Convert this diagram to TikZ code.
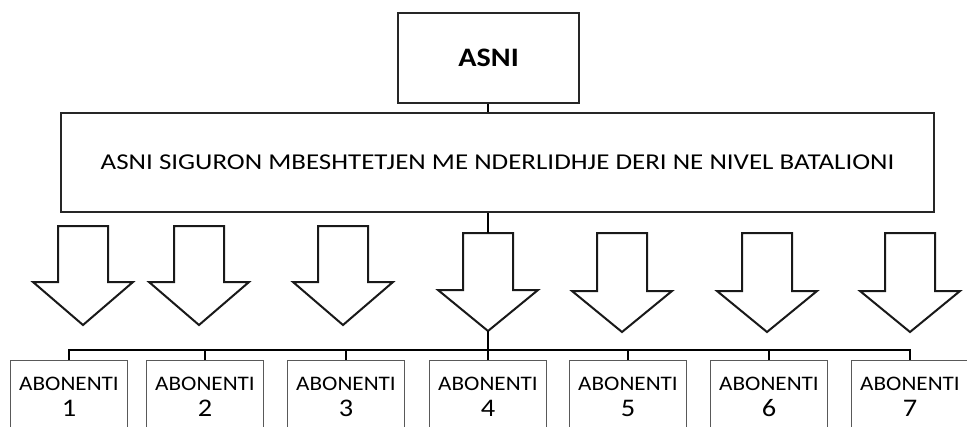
\documentclass[tikz,border=0pt]{standalone}
\usepackage{fontspec}
\setmainfont{Carlito}
\newfontfamily\statementfont[FakeStretch=1.19]{Carlito}
\newfontfamily\subfont[FakeStretch=1.12]{Carlito}
\newfontfamily\titlefont[FakeStretch=1.13]{Carlito}
\newcommand\subnum[1]{{\fontsize{19}{19}\selectfont #1}}
\begin{document}
\begin{tikzpicture}[x=0.75pt,y=-0.75pt,
  frame/.style={draw=black!85,line width=1.6pt,fill=white},
  subbox/.style={draw=black!65,line width=1pt,fill=white,minimum width=88pt,
    minimum height=54pt,anchor=north,align=center,inner sep=0pt,
    text depth=0pt,font=\subfont\fontsize{15.5}{19.5}\selectfont},
  link/.style={draw=black,line width=1.5pt},
  bigarrow/.style={draw=black!90,line width=1.5pt,fill=white,line join=miter}]
\useasboundingbox (0,0) rectangle (967,426);

% header and statement boxes
\node[frame,minimum width=135.75pt,minimum height=67.5pt,anchor=north west,
  font=\titlefont\bfseries\fontsize{20}{24}\selectfont] (asni) at (397,12) {ASNI};
\node[frame,minimum width=654.75pt,minimum height=74.25pt,anchor=north west,
  font=\statementfont\fontsize{17}{20}\selectfont] (main) at (60,112)
  {ASNI SIGURON MBESHTETJEN ME NDERLIDHJE DERI NE NIVEL BATALIONI};

% block arrow: #1 name, #2 centre x, #3 top, #4 head base, #5 tip
\newcommand\blockarrow[5]{%
  \draw[bigarrow] (#2-25,#3) -- (#2+25,#3) -- (#2+25,#4) -- (#2+50,#4)
    -- (#2,#5) -- (#2-50,#4) -- (#2-25,#4) -- cycle;
  \coordinate (#1-top) at (#2,#3);
  \coordinate (#1-tip) at (#2,#5);}
\blockarrow{a1}{83}{226}{282}{325}
\blockarrow{a2}{199}{226}{282}{325}
\blockarrow{a3}{343}{226}{282}{325}
\blockarrow{a4}{488}{233}{290}{331}
\blockarrow{a5}{622}{233}{291}{332}
\blockarrow{a6}{767}{233}{291}{332}
\blockarrow{a7}{910}{233}{291}{332}

% subscriber boxes
\foreach \i/\cx in {1/69,2/205,3/346,4/488,5/628,6/769,7/910}{
  \node[subbox] (s\i) at (\cx,360) {\rule{0pt}{8pt}ABONENTI\\\subnum{\i}};
}

% connectors
\coordinate (busL) at (69,350);
\coordinate (busR) at (910,350);
\coordinate (busM) at (488,350);
\draw[link] (asni.south -| 488,0) -- (main.north -| 488,0);
\draw[link] (main.south -| a4-top) -- (a4-top);
\draw[link] (a4-tip) -- (busM);
\draw[link] (s1.north) -- (busL) -- (busR) -- (s7.north);
\foreach \i in {2,...,6}{\draw[link] (s\i.north) -- (s\i.north |- busL);}
\end{tikzpicture}
\end{document}
